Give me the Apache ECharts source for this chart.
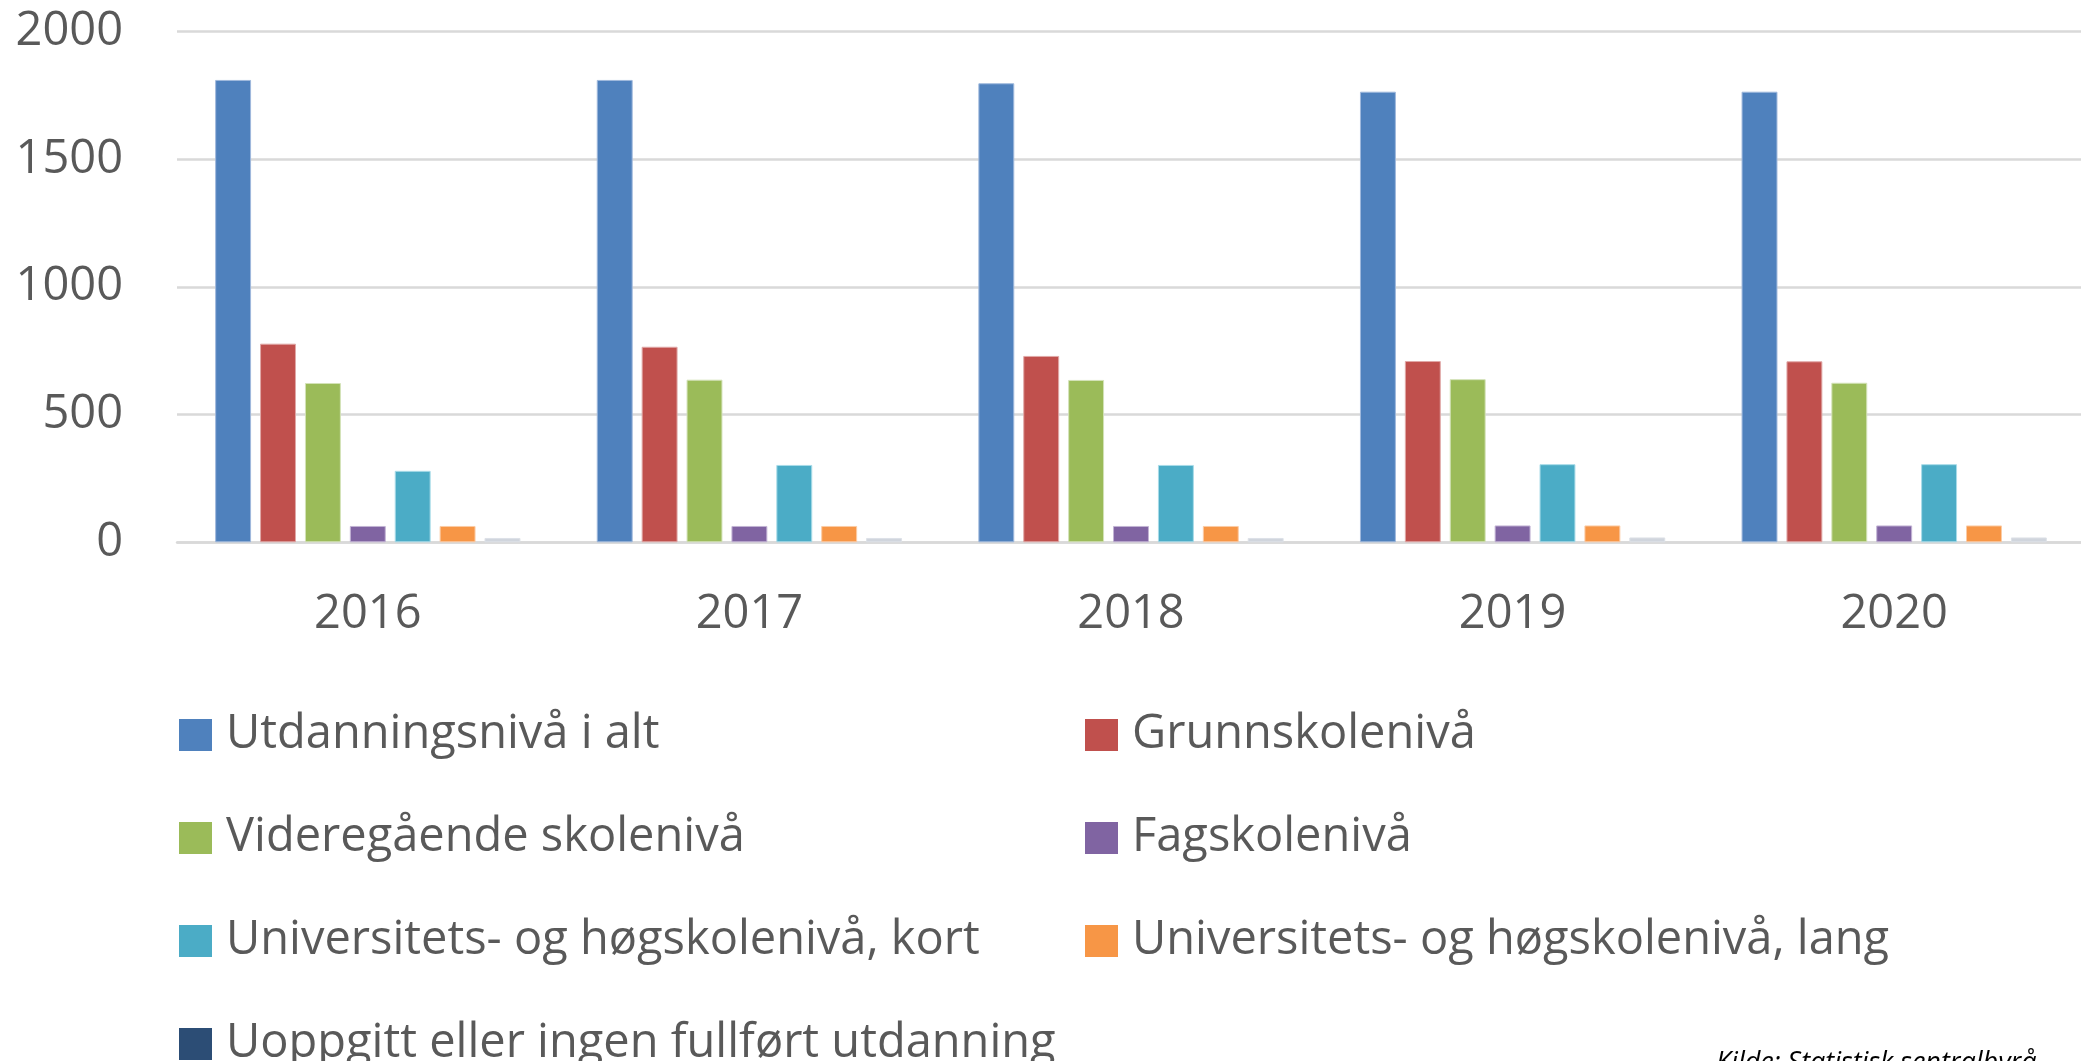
<!DOCTYPE html>
<html>
<head>
<meta charset="utf-8">
<script src="https://cdn.jsdelivr.net/npm/echarts@6/dist/echarts.min.js"></script>
<style>
html,body{margin:0;padding:0;background:#fff;}
#chart{width:2081px;height:1061px;}
</style>
</head>
<body>
<div id="chart"></div>
<script>
const years = ['2016', '2017', '2018', '2019', '2020'];
const yTicks = [0, 500, 1000, 1500, 2000];
const seriesNames = [
  'Utdanningsnivå i alt',
  'Grunnskolenivå',
  'Videregående skolenivå',
  'Fagskolenivå',
  'Universitets- og høgskolenivå, kort',
  'Universitets- og høgskolenivå, lang',
  'Uoppgitt eller ingen fullført utdanning'
];
const utdanningIAlt = [1811, 1811, 1798, 1765, 1765];
const grunnskole = [778, 766, 730, 710, 709];
const videregaende = [624, 637, 636, 639, 625];
const fagskole = [64, 64, 64, 66, 66];
const uniKort = [280, 303, 303, 306, 306];
const uniLang = [64, 64, 64, 66, 66];
const uoppgitt = [17, 17, 17, 19, 19];
const sourceText = 'Kilde: Statistisk sentralbyrå';

const seriesData = [utdanningIAlt, grunnskole, videregaende, fagskole, uniKort, uniLang, uoppgitt];
const barColors = ['#4f81bd', '#c0504d', '#9bbb59', '#8064a2', '#4bacc6', '#f79646', '#d0d5dd'];
const borderColors = ['#9fb8dc', '#e0a8a7', '#d3e2b8', '#c2b3d4', '#a8dbe8', '#fbcba5', '#dde1e7'];
const legendColors = ['#4f81bd', '#c0504d', '#9bbb59', '#8064a2', '#4bacc6', '#f79646', '#2c4d75'];

const FONT = '"Open Sans", "DejaVu Sans", sans-serif';
const TXT = '#595959';

const chart = echarts.init(document.getElementById('chart'), null, {renderer: 'canvas'});

function legendItems(idxs) {
  return idxs.map(i => ({name: seriesNames[i], itemStyle: {color: legendColors[i], borderWidth: 0}}));
}
const legendCommon = {
  orient: 'vertical',
  icon: 'rect',
  itemWidth: 33,
  itemHeight: 32,
  itemGap: 53,
  padding: 0,
  height: 420,
  selectedMode: false,
  textStyle: {
    fontFamily: FONT,
    fontSize: 47,
    color: TXT,
    lineHeight: 50,
    padding: [0, 0, 0, 9]
  }
};

const option = {
  animation: false,
  backgroundColor: '#ffffff',
  grid: {
    left: 177,
    right: -4,
    top: 31.7,
    bottom: 518.7,
    containLabel: false,
    outerBoundsMode: 'none'
  },
  xAxis: {
    type: 'category',
    data: years,
    axisLine: {show: true, lineStyle: {color: '#d9d9d9', width: 2.5}},
    axisTick: {show: false},
    axisLabel: {
      fontFamily: FONT,
      fontSize: 47,
      color: TXT,
      margin: 49,
      lineHeight: 47
    }
  },
  yAxis: {
    type: 'value',
    min: yTicks[0],
    max: yTicks[yTicks.length - 1],
    interval: yTicks[1] - yTicks[0],
    axisLine: {show: false},
    axisTick: {show: false},
    splitLine: {lineStyle: {color: '#d9d9d9', width: 2.5}},
    axisLabel: {
      fontFamily: FONT,
      fontSize: 47,
      color: TXT,
      margin: 54,
      formatter: v => String(v)
    }
  },
  legend: [
    Object.assign({}, legendCommon, {left: 179, top: 710, data: legendItems([0, 2, 4, 6])}),
    Object.assign({}, legendCommon, {left: 1085, top: 710, data: legendItems([1, 3, 5])})
  ],
  graphic: [{
    type: 'text',
    left: 1716,
    top: 1050,
    style: {
      text: sourceText,
      font: 'italic 27px ' + FONT,
      fill: '#000000'
    }
  }],
  series: seriesNames.map((name, i) => ({
    name: name,
    type: 'bar',
    data: seriesData[i],
    barGap: '25%',
    barCategoryGap: '20%',
    itemStyle: {color: barColors[i], borderColor: borderColors[i], borderWidth: 1}
  }))
};
chart.setOption(option);
</script>
</body>
</html>
